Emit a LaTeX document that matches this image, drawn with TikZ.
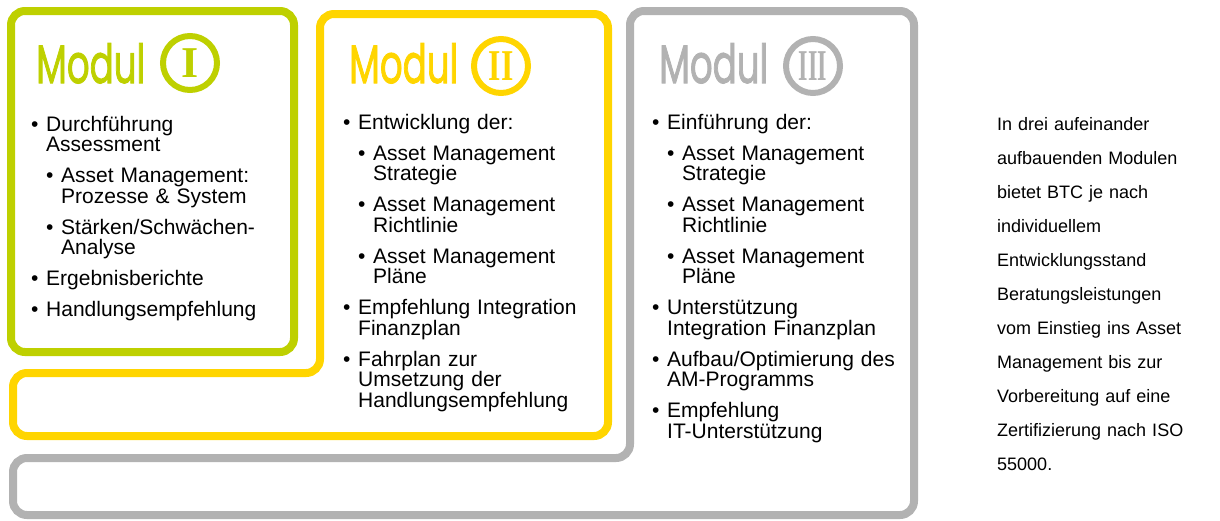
\documentclass[tikz,border=0pt]{standalone}
\usepackage{fontspec}
\usepackage{graphicx}
\setmainfont{Liberation Sans}
\newfontfamily\handfont[FakeBold=2]{Poppins}
\newfontfamily\numfont{Liberation Serif}
\definecolor{modgreen}{RGB}{190,208,0}
\definecolor{modyellow}{RGB}{255,213,0}
\definecolor{modgray}{RGB}{178,178,178}
\newcommand\nl{\hfil\break}
\newcommand\blt[1]{\hangindent=15pt\hangafter=1\noindent\hbox to 15pt{\textbullet\hfil}#1\par\vskip10.5pt}
\newcommand\subblt[1]{\hangindent=30pt\hangafter=1\noindent\hskip15pt\hbox to 15pt{\textbullet\hfil}#1\par\vskip10.5pt}
\tikzset{
  frame/.style={line width=8pt, rounded corners=14pt},
  modul/.style={font=\handfont\fontsize{54}{54}\selectfont, inner sep=0pt, anchor=base west},
  numeral/.style={circle, draw, line width=6pt, minimum size=54pt, inner sep=0pt,
    font=\numfont\bfseries\fontsize{44}{44}\selectfont},
  body/.style={font=\fontsize{21}{20.5}\selectfont, text width=262pt, inner sep=0pt, anchor=base west},
  info/.style={font=\fontsize{18}{34}\selectfont, text width=215pt, align=left, inner sep=0pt, anchor=base west}
}
\begin{document}
\begin{tikzpicture}[x=1pt,y=-1pt]
\useasboundingbox (0,0) rectangle (1220,520);
% frames
\draw[frame, modgray] (630,200) -- (630,11) -- (914,11) -- (914,515) -- (13,515) -- (13,458) -- (630,458) [sharp corners] -- cycle;
\draw[frame, modyellow] (320,200) -- (320,14) -- (608,14) -- (608,436) -- (13,436) -- (13,373) -- (320,373) [sharp corners] -- cycle;
\draw[frame, modgreen] (11,11) rectangle (294,352);
% headings
\node[modul, modgreen] (mod1) at (36,83) {\scalebox{0.66}[1]{Modul}};
\node[numeral, modgreen] (num1) at (190,63) {I};
\node[modul, modyellow] (mod2) at (349,83) {\scalebox{0.66}[1]{Modul}};
\node[numeral, modyellow] (num2) at (501,66) {\scalebox{0.72}[1]{II}};
\node[modul, modgray] (mod3) at (659,83) {\scalebox{0.66}[1]{Modul}};
\node[numeral, modgray] (num3) at (813,66) {\scalebox{0.55}[1]{III}};
% lists
\node[body] (list1) at (31,131) {%
\blt{Durchführung\nl Assessment}
\subblt{Asset Management:\nl Prozesse \& System}
\subblt{Stärken/Schwächen-\nl Analyse}
\blt{Ergebnisberichte}
\blt{Handlungsempfehlung}};
\node[body] (list2) at (343,129) {%
\blt{Entwicklung der:}
\subblt{Asset Management\nl Strategie}
\subblt{Asset Management\nl Richtlinie}
\subblt{Asset Management\nl Pläne}
\blt{Empfehlung Integration\nl Finanzplan}
\blt{Fahrplan zur\nl Umsetzung der\nl Handlungsempfehlung}};
\node[body] (list3) at (652,129) {%
\blt{Einführung der:}
\subblt{Asset Management\nl Strategie}
\subblt{Asset Management\nl Richtlinie}
\subblt{Asset Management\nl Pläne}
\blt{Unterstützung\nl Integration Finanzplan}
\blt{Aufbau/Optimierung des\nl AM-Programms}
\blt{Empfehlung\nl IT-Unterstützung}};
% summary
\node[info] (summary) at (997,130) {In drei aufeinander\\aufbauenden Modulen\\bietet BTC je nach\\individuellem\\Entwicklungsstand\\Beratungsleistungen\\vom Einstieg ins Asset\\Management bis zur\\Vorbereitung auf eine\\Zertifizierung nach ISO\\55000.};
\end{tikzpicture}
\end{document}
